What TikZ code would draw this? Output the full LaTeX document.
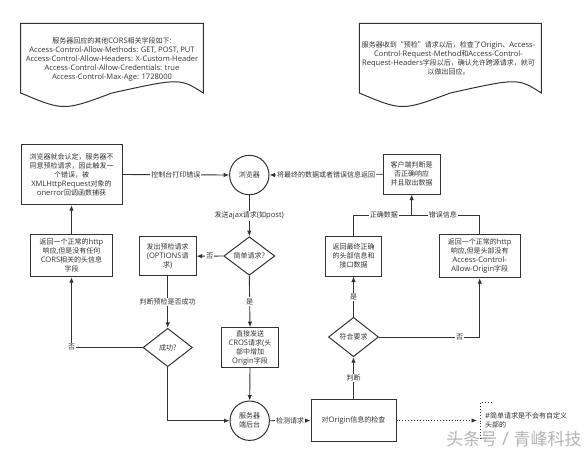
\documentclass[tikz,border=0pt]{standalone}
\usepackage{fontspec}
\setmainfont{Open Sans}[Scale=1.08]
\newfontfamily\cjkfont{Noto Sans CJK SC}
\XeTeXinterchartokenstate=1
\newXeTeXintercharclass\CJKclass
\newXeTeXintercharclass\LATclass
\newcount\cjkc
\def\setclassrange#1#2#3{\cjkc=#1\relax\loop\XeTeXcharclass\cjkc=#3\advance\cjkc by 1\relax\ifnum\cjkc<#2\repeat}
\setclassrange{"0021}{"007F}{\LATclass}
\setclassrange{"00A0}{"0250}{\LATclass}
\setclassrange{"3000}{"3040}{\CJKclass}
\setclassrange{"4E00}{"A000}{\CJKclass}
\setclassrange{"FF00}{"FFF0}{\CJKclass}
\XeTeXcharclass"201C=\CJKclass
\XeTeXcharclass"201D=\CJKclass
\XeTeXinterchartoks 4095 \CJKclass = {\cjkfont}
\XeTeXinterchartoks \LATclass \CJKclass = {\cjkfont}
\XeTeXinterchartoks \CJKclass \LATclass = {\rmfamily}
\XeTeXinterchartoks \CJKclass 4095 = {\rmfamily}
\usetikzlibrary{shapes.geometric,arrows.meta}
\definecolor{ink}{HTML}{333333}
\definecolor{wm}{HTML}{B4B4B4}
\newcommand\diagfont{\fontsize{7}{9}\selectfont\lineskiplimit -20pt\relax\lineskip 0pt\relax}
\tikzset{
  every node/.style={font=\diagfont, text=ink},
  boxnode/.style={draw=ink, line width=1pt, rectangle, align=center, inner sep=1pt},
  circnode/.style={draw=ink, line width=1pt, circle, align=center, inner sep=0pt, minimum size=39.4pt},
  dianode/.style={draw=ink, line width=1pt, diamond, align=center, inner sep=0pt, shape aspect=1.3},
  conn/.style={draw=ink, line width=0.9pt},
  arr/.style={conn, -{Latex[length=5.5pt,width=4.5pt]}},
  lab/.style={fill=white, inner sep=1pt},
  docshape/.style={draw=ink, line width=1pt, fill=white},
}
\begin{document}
\begin{tikzpicture}[x=1pt,y=-1pt]
\useasboundingbox[fill=white] (0,0) rectangle (588,451);

% document shapes
\draw[docshape] (20.7,23.3) -- (203.3,23.3) -- (203.3,93) .. controls (180,78) .. (112,93) .. controls (63.6,111) .. (20.7,93) -- cycle;
\node[align=center] (d1) at (112,59.3) {服务器回应的其他CORS相关字段如下:\\Access-Control-Allow-Methods: GET, POST, PUT\\Access-Control-Allow-Headers: X-Custom-Header\\Access-Control-Allow-Credentials: true\\Access-Control-Max-Age: 1728000};

\draw[docshape] (359.3,23.3) -- (541.3,23.3) -- (541.3,93) .. controls (518,78) .. (450.3,93) .. controls (402,111) .. (359.3,93) -- cycle;
\node[align=center] (d2) at (448.5,58.7) {服务器收到“预检”请求以后，检查了Origin、Access-\\Control-Request-Method和Access-Control-\\Request-Headers字段以后，确认允许跨源请求，就可\\以做出回应。};

% nodes
\node[boxnode, minimum width=101pt, minimum height=60.4pt] (b1) at (71.5,174.5) {浏览器就会认定，服务器不\\同意预检请求，因此触发一\\个错误，被\\XMLHttpRequest对象的\\onerror回调函数捕获};
\node[circnode] (browser) at (249.3,175) {浏览器};
\node[boxnode, minimum width=56.7pt, minimum height=39.7pt] (client) at (411.7,174.2) {客户端判断是\\否正确响应\\并且取出数据};
\node[dianode, minimum width=51pt, minimum height=38.6pt] (simple) at (249.3,256) {简单请求?};
\node[boxnode, minimum width=56.7pt, minimum height=39pt] (opts) at (167.7,256.2) {发出预检请求\\(OPTIONS请\\求)};
\node[boxnode, minimum width=81.6pt, minimum height=42.4pt] (ret1) at (71.5,255.5) {返回一个正常的http\\响应,但是没有任何\\CORS相关的头信息\\字段};
\node[dianode, minimum width=49.4pt, minimum height=38.4pt] (ok) at (167.7,347.5) {成功?};
\node[boxnode, minimum width=56.6pt, minimum height=39.6pt] (direct) at (250,347.5) {直接发送\\CROS请求(头\\部中增加\\Origin字段};
\node[circnode] (server) at (249.7,420.7) {服务器\\端后台};
\node[boxnode, minimum width=85pt, minimum height=42.4pt] (check) at (353.5,420.5) {对Origin信息的检查};
\node[dianode, minimum width=50pt, minimum height=39.4pt] (match) at (353.5,337) {符合要求};
\node[boxnode, minimum width=56.7pt, minimum height=40pt] (correct) at (353.5,256) {返回最终正确\\的头部信息和\\接口数据};
\node[boxnode, minimum width=80.7pt, minimum height=43.4pt] (noacao) at (479.7,256) {返回一个正常的http\\响应,但是头部没有\\Access-Control-\\Allow-Origin字段};
\coordinate (join) at (411.7,215);
\coordinate (noteend) at (477,420.5);
\node[align=left, anchor=west, inner sep=0pt] (note) at (485,420.5) {\#简单请求是不会有自定义\\头部的};

% connectors
\draw[arr] (b1.east) -- node[lab]{控制台打印错误} (browser.west);
\draw[arr] (client.west) -- node[lab]{将最终的数据或者错误信息返回} (browser.east);
\draw[arr] (browser.south) -- node[lab]{发送ajax请求(如post)} (simple.north);
\draw[arr] (simple.west) -- node[lab]{否} (opts.east);
\draw[arr] (simple.south) -- node[lab]{是} (direct.north);
\draw[arr] (opts.south) -- node[lab]{判断预检是否成功} (ok.north);
\draw[arr] (ok.west) -| node[lab,pos=0.5]{否} (ret1.south);
\draw[arr] (ret1.north) -- (b1.south);
\draw[arr] (ok.south) |- (server.west);
\draw[arr] (direct.south) -- (server.north);
\draw[arr] (server.east) -- node[lab]{检测请求} (check.west);
\draw[arr] (check.north) -- node[lab]{判断} (match.south);
\draw[arr] (match.north) -- node[lab]{是} (correct.south);
\draw[arr] (match.east) -| node[lab,pos=0.4]{否} (noacao.south);
\draw[conn] (correct.north) |- node[lab,pos=0.76]{正确数据} (join);
\draw[conn] (noacao.north) |- node[lab,pos=0.77]{错误信息} (join);
\draw[arr] (join) -- (client.south);
\draw[arr, dotted] (check.east) -- (noteend);
\draw[conn, dotted] (491.7,402.5) -- (480.7,402.5) -- (480.7,438.5) -- (491.7,438.5);

% watermark
\node[text=wm, font=\fontsize{17}{17}\selectfont] (wmark) at (514,439.5) {头条号 / 青峰科技};
\end{tikzpicture}
\end{document}
